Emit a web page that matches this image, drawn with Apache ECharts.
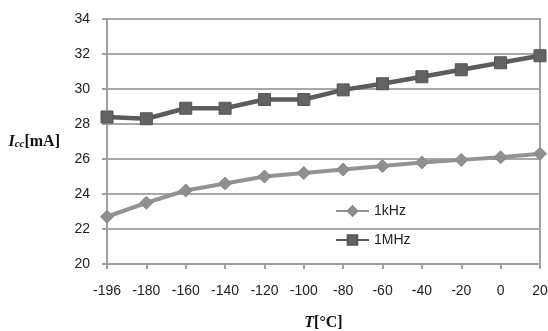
<!DOCTYPE html>
<html>
<head>
<meta charset="utf-8">
<script src="https://cdn.jsdelivr.net/npm/echarts@6/dist/echarts.min.js"></script>
<style>
html,body{margin:0;padding:0;background:#fff;}
#chart{width:548px;height:331px;}
</style>
</head>
<body>
<div id="chart"></div>
<script>
var categories = ['-196','-180','-160','-140','-120','-100','-80','-60','-40','-20','0','20'];
var series1kHz = [22.7, 23.5, 24.2, 24.6, 25.0, 25.2, 25.4, 25.6, 25.8, 25.95, 26.1, 26.3];
var series1MHz = [28.4, 28.3, 28.9, 28.9, 29.4, 29.4, 29.95, 30.3, 30.7, 31.1, 31.5, 31.9];
var seriesNames = ['1kHz', '1MHz'];
var yMin = 20, yMax = 34, yStep = 2;

var chart = echarts.init(document.getElementById('chart'), null, {renderer: 'canvas'});
var labelFont = 'Liberation Sans';
var option = {
  backgroundColor: '#ffffff',
  animation: false,
  grid: {
    left: 107, right: 8, top: 19, bottom: 67,
    containLabel: false,
    outerBoundsMode: 'none',
    show: true, borderColor: '#a0a0a0', borderWidth: 2, backgroundColor: 'transparent'
  },
  legend: {
    orient: 'vertical',
    left: 330, top: 199,
    itemWidth: 33, itemHeight: 12, itemGap: 15,
    textStyle: {fontFamily: labelFont, fontSize: 14, color: '#222'},
    data: seriesNames
  },
  xAxis: {
    type: 'category',
    data: categories,
    boundaryGap: false,
    axisLine: {lineStyle: {color: '#a0a0a0', width: 2}},
    axisTick: {show: true, length: 5, lineStyle: {color: '#a0a0a0', width: 2}},
    axisLabel: {fontFamily: labelFont, fontSize: 14, color: '#222', margin: 20},
    splitLine: {show: false},
    name: '{ti|T}{tb|[°C]}',
    nameLocation: 'middle',
    nameGap: 51,
    nameTextStyle: {
      rich: {
        ti: {fontFamily: 'Liberation Serif', fontWeight: 'bold', fontStyle: 'italic', fontSize: 16, color: '#111'},
        tb: {fontFamily: 'Liberation Serif', fontWeight: 'bold', fontSize: 16, color: '#111'}
      }
    }
  },
  yAxis: {
    type: 'value',
    min: yMin, max: yMax, interval: yStep,
    axisLine: {show: true, lineStyle: {color: '#a0a0a0', width: 2}},
    axisTick: {show: true, length: 5, lineStyle: {color: '#a0a0a0', width: 2}},
    axisLabel: {fontFamily: labelFont, fontSize: 14, color: '#222', margin: 17},
    splitLine: {show: true, lineStyle: {color: '#a8a8a8', width: 2}},
    name: '{ti|I}{sub|cc}{tb|[mA]}',
    nameLocation: 'middle',
    nameRotate: 0,
    nameGap: 47,
    nameTextStyle: {
      rich: {
        ti: {fontFamily: 'Liberation Serif', fontWeight: 'bold', fontStyle: 'italic', fontSize: 16, color: '#111'},
        sub: {fontFamily: 'Liberation Serif', fontWeight: 'bold', fontStyle: 'italic', fontSize: 11, color: '#111', padding: [6, 0, 0, 0]},
        tb: {fontFamily: 'Liberation Serif', fontWeight: 'bold', fontSize: 16, color: '#111'}
      }
    }
  },
  series: [
    {
      name: seriesNames[0],
      type: 'line',
      data: series1kHz,
      symbol: 'diamond',
      symbolSize: [13, 13],
      showAllSymbol: true,
      lineStyle: {color: '#939393', width: 4},
      itemStyle: {color: '#8f8f8f', borderColor: '#8a8a8a', borderWidth: 1},
      z: 3
    },
    {
      name: seriesNames[1],
      type: 'line',
      data: series1MHz,
      symbol: 'rect',
      symbolSize: [12, 12],
      showAllSymbol: true,
      lineStyle: {color: '#5c5c5c', width: 4.5},
      itemStyle: {color: '#636363', borderColor: '#555555', borderWidth: 1},
      z: 4
    }
  ]
};
chart.setOption(option);
</script>
</body>
</html>
